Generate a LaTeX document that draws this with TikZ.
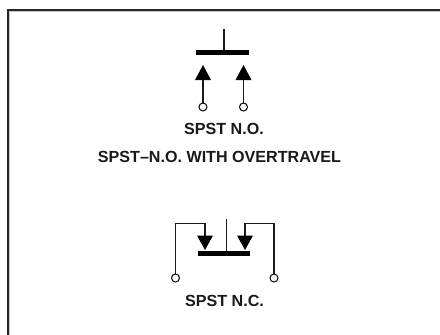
\documentclass[tikz,border=0pt]{standalone}
\usepackage{fontspec}
\setmainfont{Liberation Sans}
\usetikzlibrary{calc}
\tikzset{
  wire/.style={draw=black!90,line width=1.1pt},
  frameline/.style={draw=black!85,line width=2pt},
  frameshade/.style={draw=black!22,line width=1pt},
  bar/.style={fill=black,draw=none,minimum height=5pt,inner sep=0pt},
  term/.style={circle,draw=black,fill=white,line width=1pt,minimum size=8pt,inner sep=0pt},
  tri/.style={fill=black,draw=none},
  lab/.style={font=\bfseries\fontsize{16.1pt}{18pt}\selectfont,text=black!90,inner sep=0pt,anchor=center}
}
\begin{document}
\begin{tikzpicture}[x=1pt,y=-1pt]
\useasboundingbox (0,0) rectangle (440,335);
\draw[frameshade] (9.5,335) -- (9.5,11.5) -- (440,11.5);
\draw[frameline] (8,335) -- (8,10) -- (440,10);
% SPST N.O.
\node[bar,minimum width=53pt] (b1) at (222.5,52.5) {};
\coordinate (t1) at (224,29);
\draw[wire] (t1) -- (b1.north -| t1);
\node[term] (a) at (203,107) {};
\node[term] (c) at (243.5,107) {};
\draw[wire] (a) -- (203,78);
\draw[wire] (c) -- (243.5,78);
\fill[tri] (203,65) -- (195,80) -- (211,80) -- cycle;
\fill[tri] (243.5,65) -- (235.5,80) -- (251.5,80) -- cycle;
\node[lab] (l1) at (224,128.5) {SPST N.O.};
\node[lab] (l2) at (219.5,157) {SPST–N.O. WITH OVERTRAVEL};
% SPST N.C.
\node[bar,minimum width=52pt] (b2) at (224,253.5) {};
\coordinate (t2) at (226.7,219);
\draw[wire] (t2) -- (b2.north -| t2);
\node[term] (d) at (175.5,278) {};
\node[term] (e) at (274,278) {};
\draw[wire] (d) -- (175.5,223.7) -- (205,223.7) -- (205,240);
\draw[wire] (e) -- (274,223.7) -- (245,223.7) -- (245,240);
\fill[tri] (205,250) -- (197,235.5) -- (213,235.5) -- cycle;
\fill[tri] (245,250) -- (237,235.5) -- (253,235.5) -- cycle;
\node[lab] (l3) at (224.5,301) {SPST N.C.};
\end{tikzpicture}
\end{document}
